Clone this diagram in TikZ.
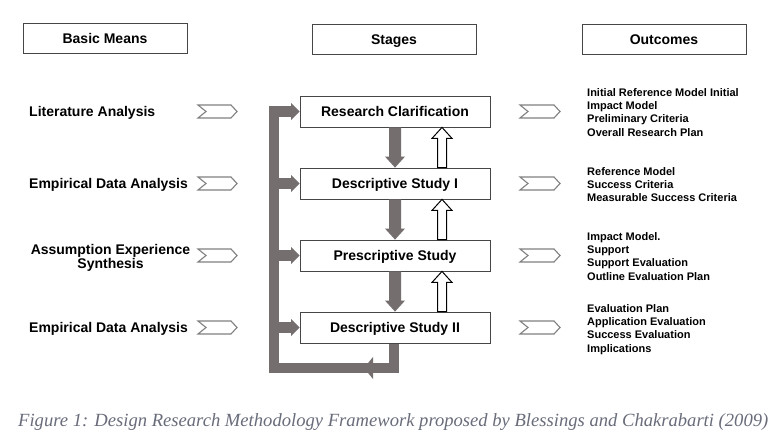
\documentclass[tikz,border=0pt]{standalone}
\usepackage{fontspec}
\setmainfont{Liberation Sans}
\newfontfamily\capfont{Liberation Serif}
\usetikzlibrary{calc}
\definecolor{arrgray}{RGB}{117,110,110}
\definecolor{capgray}{RGB}{105,108,122}
\definecolor{boxline}{RGB}{70,70,70}
\newcommand\grayDown[2]{%
  \fill[arrgray] ($(#1.south)+(-6,0)$) -- ($(#2.north)+(-6,-11)$) -- ($(#2.north)+(-10,-11)$) -- (#2.north)
    -- ($(#2.north)+(10,-11)$) -- ($(#2.north)+(6,-11)$) -- ($(#1.south)+(6,0)$) -- cycle;}
\newcommand\hollowUp[2]{%
  \draw[black,line width=1pt,fill=white,line join=miter] ($(#1.north)+(42.5,0)$) -- ($(#2.south)+(42.5,11)$) -- ($(#2.south)+(37,11)$) -- ($(#2.south)+(47,0)$)
    -- ($(#2.south)+(57,11)$) -- ($(#2.south)+(51.5,11)$) -- ($(#1.north)+(51.5,0)$) -- cycle;}
\newcommand\rightHead[1]{%
  \fill[arrgray] (#1.west) -- ($(#1.west)+(-8.5,-8.5)$) -- ($(#1.west)+(-8.5,8.5)$) -- cycle;}
\newcommand\chevron[3]{% x-left, y-center, length
  \draw[gray,line width=1.1pt,fill=white,line join=miter] (#1,#2-6.5) -- ++(#3-6,0) -- ++(6,6.5) -- ++(-6,6.5) -- (#1,#2+6.5) -- (#1+8,#2) -- cycle;}
\begin{document}
\begin{tikzpicture}[x=1pt,y=-1pt,
  hdr/.style={draw=boxline,line width=0.8pt,minimum width=164pt,minimum height=30pt,inner sep=0pt,text height=10pt,text depth=0pt,font=\fontsize{14}{16}\selectfont\bfseries},
  stagebox/.style={draw=boxline,line width=0.8pt,fill=white,minimum width=190pt,minimum height=31pt,inner sep=0pt,text height=10pt,text depth=0pt,font=\fontsize{14}{16}\selectfont\bfseries},
  meanstext/.style={anchor=west,inner sep=0pt,text height=10pt,text depth=0pt,font=\fontsize{14}{16}\selectfont\bfseries},
  outtext/.style={anchor=north west,inner sep=0pt,align=left,font=\fontsize{11}{13.3}\selectfont\bfseries},
  flow/.style={draw=arrgray,line width=10.5pt,line join=miter},
]
\useasboundingbox (0,0) rectangle (777,438);
\fill[white] (0,0) rectangle (777,438);

% headers
\node[hdr] (bm) at (105,38.5) {Basic Means};
\node[hdr] (st) at (394,39.5) {Stages};
\node[hdr] (oc) at (664,39.5) {Outcomes};

% feedback loop (behind boxes)
\coordinate (loopbl) at (274,368);
\coordinate (dsbot) at (394,343);
\draw[flow] (dsbot) -- (dsbot |- loopbl) -- (loopbl) -- (274,106.25) ;
\draw[flow] (274,111.5) -- (291.5,111.5);

% stage boxes
\node[stagebox] (rc) at (395,111.5) {Research Clarification};
\node[stagebox] (ds1) at (395,183.5) {Descriptive Study I};
\node[stagebox] (ps) at (395,255.5) {Prescriptive Study};
\node[stagebox] (ds2) at (395,327.5) {Descriptive Study II};

\draw[flow] (loopbl |- ds1.west) -- ($(ds1.west)+(-8,0)$);
\draw[flow] (loopbl |- ps.west) -- ($(ps.west)+(-8,0)$);
\draw[flow] (loopbl |- ds2.west) -- ($(ds2.west)+(-8,0)$);
\rightHead{rc}
\rightHead{ds1}
\rightHead{ps}
\rightHead{ds2}
\coordinate (lefttip) at (364,368);
\fill[arrgray] (lefttip) -- ($(lefttip)+(9,-11)$) -- ($(lefttip)+(9,11)$) -- cycle;

% down and up arrows
\grayDown{rc}{ds1}
\grayDown{ds1}{ps}
\grayDown{ps}{ds2}
\hollowUp{ds1}{rc}
\hollowUp{ps}{ds1}
\hollowUp{ds2}{ps}

% basic means
\node[meanstext] (m1) at (29,112) {Literature Analysis};
\node[meanstext] (m2) at (29,184) {Empirical Data Analysis};
\node[inner sep=0pt,align=center,font=\fontsize{14}{14}\selectfont\bfseries] (m3) at (110.5,257.5) {Assumption Experience\\Synthesis};
\node[meanstext] (m4) at (29,328) {Empirical Data Analysis};

% chevrons
\chevron{198}{111.5}{39}
\chevron{198}{183.5}{39}
\chevron{198}{255.5}{39}
\chevron{198}{327.5}{39}
\chevron{520}{111.5}{40}
\chevron{520}{183.5}{40}
\chevron{520}{255.5}{40}
\chevron{520}{327.5}{40}

% outcomes
\node[outtext] (o1) at (587,88) {Initial Reference Model Initial\\Impact Model\\Preliminary Criteria\\Overall Research Plan};
\node[outtext] (o2) at (587,167) {Reference Model\\Success Criteria\\Measurable Success Criteria};
\node[outtext] (o3) at (587,232) {Impact Model.\\Support\\Support Evaluation\\Outline Evaluation Plan};
\node[outtext] (o4) at (587,304) {Evaluation Plan\\Application Evaluation\\Success Evaluation\\Implications};

% caption
\node[anchor=west,inner sep=0pt,text=capgray,font=\capfont\itshape\fontsize{18.6}{20}\selectfont] (cap) at (18,422.5) {Figure 1: Design Research Methodology Framework proposed by Blessings and Chakrabarti (2009)};
\end{tikzpicture}
\end{document}
